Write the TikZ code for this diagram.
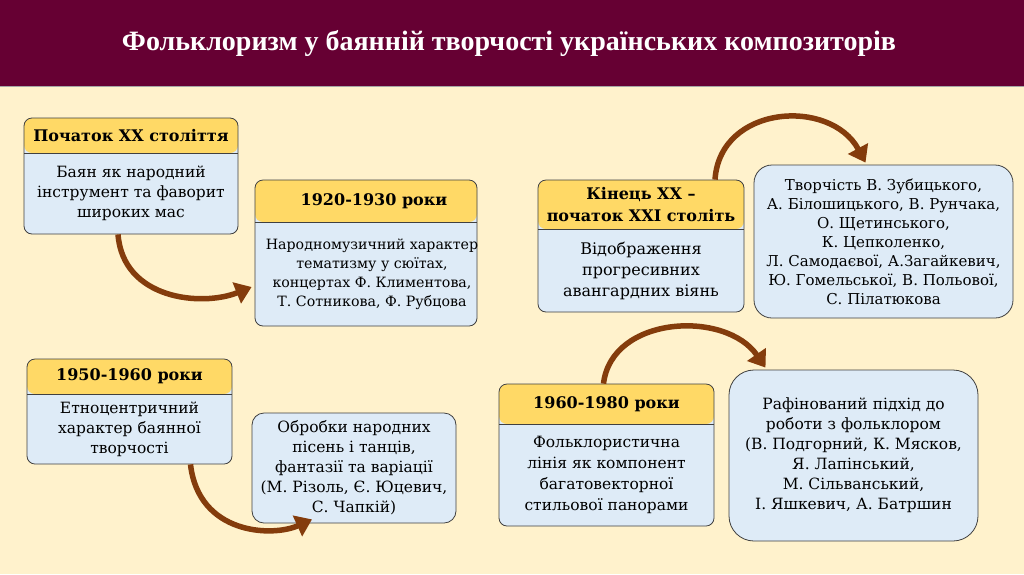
\documentclass[tikz,border=0pt]{standalone}
\usepackage{fontspec}
\setmainfont{DejaVu Serif}
\newfontfamily\titlefont{Liberation Serif}
\usepackage{xcolor}
\usepackage{tikz}
\usetikzlibrary{arrows.meta,positioning}
\definecolor{bandred}{RGB}{102,0,51}
\definecolor{pagecream}{RGB}{255,242,204}
\definecolor{hdryellow}{RGB}{255,217,102}
\definecolor{bodyblue}{RGB}{222,235,247}
\definecolor{edgegray}{RGB}{64,64,64}
\definecolor{arcbrown}{RGB}{132,60,12}
\tikzset{
  framebox/.style={
    rectangle,
    rounded corners=8pt,
    draw=edgegray,
    thick,
    fill=bodyblue,
    inner sep=0pt
  },
  topband/.style={
    path picture={
      \fill[hdryellow] (path picture bounding box.north west) rectangle ([yshift=-#1]path picture bounding box.north east);
      \draw[edgegray, thick] ([yshift=-#1]path picture bounding box.north west) -- ([yshift=-#1]path picture bounding box.north east);
    }
  },
  hdrtext/.style={
    font=\bfseries\fontsize{16}{22}\selectfont,
    align=center,
    inner sep=0pt
  },
  bodytext/.style={
    font=\fontsize{15.5}{20}\selectfont,
    align=center,
    inner sep=0pt
  },
  bendarrow/.style={line width=5.5pt, draw=arcbrown, -{Triangle[length=16pt,width=22pt]}}
}

\begin{document}
\begin{tikzpicture}[x=1pt, y=-1pt]
\useasboundingbox (0,0) rectangle (1024,574);
\fill[pagecream] (0,0) rectangle (1024,574);
\fill[bandred] (0,0) rectangle (1024,86);
\draw[black!35, thick] (0,86) -- (1024,86);
\node[text=white, font=\titlefont\bfseries\fontsize{28}{32}\selectfont] (title) at (509,43) {Фольклоризм у баянній творчості українських композиторів};

% top row
\node[framebox, topband=35pt, minimum width=214pt, minimum height=116pt] (fA) at (131,176) {};
\node[hdrtext, minimum height=35pt, below=0pt of fA.north] (hA) {Початок ХХ століття};
\node[bodytext, minimum height=81pt, below=0pt of hA] (bA) {Баян як народний\\інструмент та фаворит\\широких мас};

\node[framebox, topband=42pt, minimum width=222pt, minimum height=146pt] (fB) at (366,253) {};
\node[hdrtext, minimum height=42pt, below=0pt of fB.north, xshift=8pt] (hB) {1920-1930 роки};
\node[bodytext, font=\fontsize{14.2}{19}\selectfont, minimum height=104pt, below=0pt of fB.north, yshift=-42pt, xshift=6pt] (bB) {Народномузичний характер\\тематизму у сюїтах,\\концертах Ф. Климентова,\\Т. Сотникова, Ф. Рубцова};

\node[framebox, topband=49pt, minimum width=206pt, minimum height=132pt] (fC) at (641,246) {};
\node[hdrtext, minimum height=49pt, below=0pt of fC.north] (hC) {Кінець ХХ –\\початок ХХІ століть};
\node[bodytext, font=\fontsize{16}{21}\selectfont, minimum height=83pt, below=0pt of hC] (bC) {Відображення\\прогресивних\\авангардних віянь};

\node[framebox, bodytext, font=\fontsize{15}{19}\selectfont, rounded corners=18pt, minimum width=259pt, minimum height=153pt] (fD) at (883.5,241.5) {Творчість В. Зубицького,\\А. Білошицького, В. Рунчака,\\О. Щетинського,\\К. Цепколенко,\\Л. Самодаєвої, А.Загайкевич,\\Ю. Гомельської, В. Польової,\\С. Пілатюкова};

% bottom row
\node[framebox, topband=35pt, minimum width=205pt, minimum height=105pt] (fE) at (129.5,411.5) {};
\node[hdrtext, minimum height=35pt, below=0pt of fE.north] (hE) {1950-1960 роки};
\node[bodytext, minimum height=70pt, below=0pt of hE] (bE) {Етноцентричний\\характер баянної\\творчості};

\node[framebox, bodytext, rounded corners=12pt, minimum width=204pt, minimum height=110pt] (fF) at (354,468) {Обробки народних\\пісень і танців,\\фантазії та варіації\\(М. Різоль, Є. Юцевич,\\С. Чапкій)};

\node[framebox, topband=40pt, minimum width=215pt, minimum height=142pt] (fG) at (606.5,455) {};
\node[hdrtext, minimum height=40pt, below=0pt of fG.north] (hG) {1960-1980 роки};
\node[bodytext, font=\fontsize{15.5}{21}\selectfont, minimum height=102pt, below=0pt of hG] (bG) {Фольклористична\\лінія як компонент\\багатовекторної\\стильової панорами};

\node[framebox, bodytext, rounded corners=25pt, minimum width=249pt, minimum height=171pt] (fH) at (853.5,455.5) {Рафінований підхід до\\роботи з фольклором\\(В. Подгорний, К. Мясков,\\Я. Лапінський,\\М. Сільванський,\\І. Яшкевич, А. Батршин};

% curved arrows
\draw[bendarrow] ([xshift=-13pt]fA.south) .. controls +(5,65) and +(-50,20) .. ([xshift=-3pt,yshift=-34pt]fB.west);
\draw[bendarrow] ([xshift=74pt]fC.north) .. controls +(5,-75) and +(-35,-65) .. ([xshift=-18pt,yshift=2pt]fD.north);
\draw[bendarrow] ([xshift=61pt]fE.south) .. controls +(8,70) and +(-40,18) .. ([xshift=-42pt,yshift=4pt]fF.south);
\draw[bendarrow] ([xshift=-3pt]fG.north) .. controls +(8,-68) and +(-40,-58) .. ([xshift=-88pt,yshift=2pt]fH.north);
\end{tikzpicture}
\end{document}
